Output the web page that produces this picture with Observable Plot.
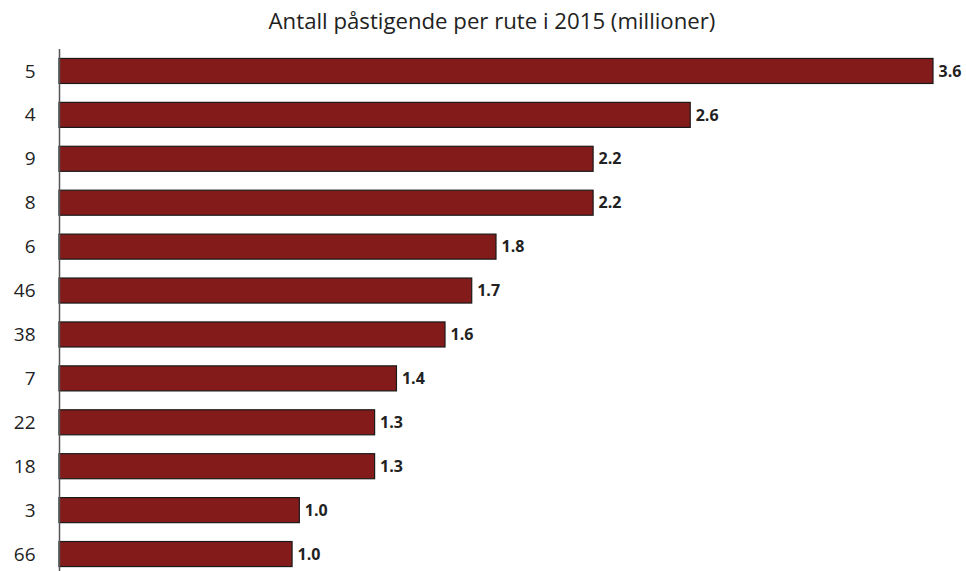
<!DOCTYPE html>
<html><head><meta charset="utf-8">
<script src="https://cdn.jsdelivr.net/npm/d3@7"></script>
<script src="https://cdn.jsdelivr.net/npm/@observablehq/plot@0.6"></script>
<style>
body{margin:0;background:#fff;overflow:hidden;width:966px;height:571px;}
#title{height:45px;box-sizing:border-box;padding-left:18px;padding-top:8px;text-align:center;font-family:"Open Sans",sans-serif;font-size:22.2px;color:#222;line-height:26px;}
#chart svg{display:block;}
</style></head><body>
<div id="title">Antall påstigende per rute i 2015 (millioner)</div>
<div id="chart"></div>
<script>
const routes = ["5","4","9","8","6","46","38","7","22","18","3","66"];
const passengers = [3.6,2.6,2.2,2.2,1.8,1.7,1.59,1.39,1.3,1.3,0.99,0.96];
const valueLabels = ["3.6","2.6","2.2","2.2","1.8","1.7","1.6","1.4","1.3","1.3","1.0","1.0"];
const data = routes.map((r,i)=>({route:r, value:passengers[i], label:valueLabels[i]}));
const chart = Plot.plot({
  width:966, height:531, marginTop:4, marginBottom:0, marginLeft:59, marginRight:33,
  x:{domain:[0,3.6], axis:null},
  y:{domain:routes, paddingInner:0.43, paddingOuter:0.215, round:false, label:null, tickSize:0, tickPadding:24},
  style:{fontFamily:"Open Sans, sans-serif", fontSize:"19px", color:"#222", background:"#fff"},
  marks:[
    Plot.barX(data,{x:"value", y:"route", fill:"#841b1b", stroke:"#1a1a1a", strokeWidth:1.2}),
    Plot.text(data,{x:"value", y:"route", text:"label", textAnchor:"start", dx:5, fontWeight:"bold", fontSize:16, fill:"#222"}),
    Plot.ruleX([0],{stroke:"#555", strokeWidth:1.5})
  ]
});
document.getElementById("chart").appendChild(chart);
</script>
</body></html>
